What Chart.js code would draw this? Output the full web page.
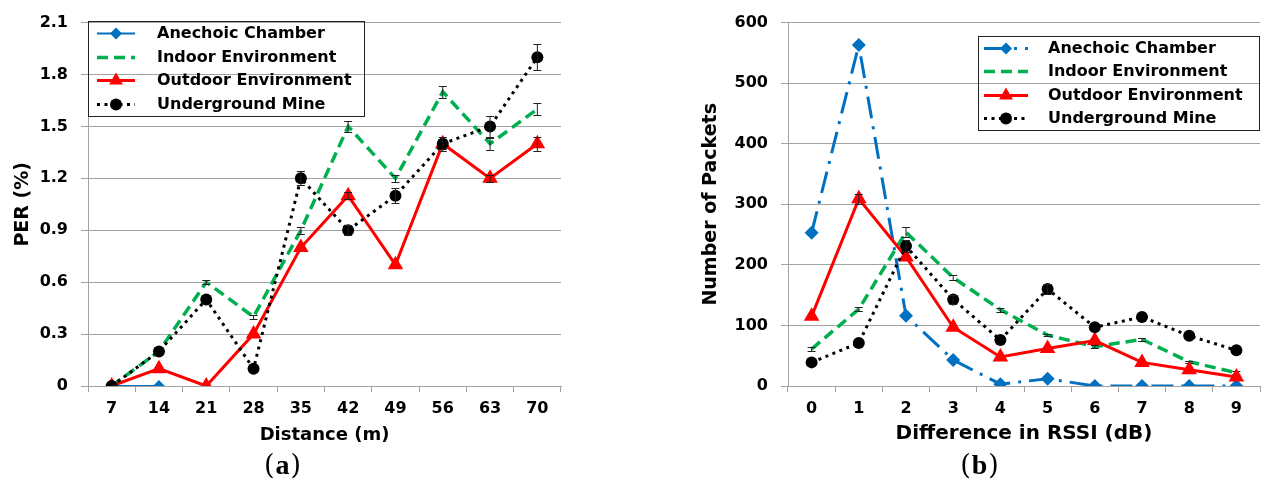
<!DOCTYPE html>
<html>
<head>
<meta charset="utf-8">
<script src="https://cdn.jsdelivr.net/npm/chart.js@4.4.0/dist/chart.umd.min.js"></script>
<style>
  html, body { margin: 0; padding: 0; background: #fff; }
  #wrap { position: relative; width: 1269px; height: 481px; overflow: hidden; }
  .box { position: absolute; top: 0; }
  .cap { position: absolute; top: 449px; font: 27px 'DejaVu Serif', serif; letter-spacing: 1px; color: #000; transform: translateX(-50%); }
  .cap b { font-family: 'Liberation Serif', serif; font-size: 28px; }
</style>
</head>
<body>
<div id="wrap">
  <div class="box" style="left:0"><canvas id="perChart" width="600" height="452"></canvas></div>
  <div class="box" style="left:660px"><canvas id="rssiChart" width="609" height="452"></canvas></div>
  <div class="cap" style="left:283px">(<b>a</b>)</div>
  <div class="cap" style="left:980px">(<b>b</b>)</div>
</div>
<script>
// (a) PER vs distance
const distLabels = ['7', '14', '21', '28', '35', '42', '49', '56', '63', '70'];
const perAnechoic = [0, 0];
const perIndoor = [0, 0.2, 0.6, 0.4, 0.9, 1.5, 1.2, 1.7, 1.4, 1.6];
const perOutdoor = [0, 0.1, 0, 0.3, 0.8, 1.1, 0.7, 1.4, 1.2, 1.4];
const perMine = [0, 0.2, 0.5, 0.1, 1.2, 0.9, 1.1, 1.4, 1.5, 1.9];
const perIndoorErr = [0, 0, 0.01, 0.01, 0.02, 0.03, 0.02, 0.035, 0.035, 0.035];
const perOutdoorErr = [0, 0, 0, 0, 0, 0.02, 0, 0.03, 0.02, 0.04];
const perMineErr = [0, 0, 0, 0, 0.04, 0.03, 0.045, 0.04, 0.06, 0.075];

// (b) packets vs RSSI difference
const rssiLabels = ['0', '1', '2', '3', '4', '5', '6', '7', '8', '9'];
const pktAnechoic = [253, 563, 116, 43, 3, 12, 0, 0, 0, 0];
const pktIndoor = [61, 127, 254, 179, 126, 84, 65, 77, 40, 22];
const pktOutdoor = [115, 309, 213, 97, 48, 62, 75, 39, 27, 15];
const pktMine = [39, 71, 231, 143, 76, 160, 97, 114, 83, 59];
const pktIndoorErr = [3, 3, 8, 4, 3, 2, 2, 2, 2, 2];
const pktOutdoorErr = [0, 8, 0, 0, 0, 0, 0, 0, 0, 0];
const pktMineErr = [0, 0, 10, 8, 0, 8, 0, 0, 0, 0];

const seriesNames = ['Anechoic Chamber', 'Indoor Environment', 'Outdoor Environment', 'Underground Mine'];

const FONT = 'DejaVu Sans';
const gridColor = '#a3a3a3';

// draws the little error bars on top of each series
const errorBars = {
  id: 'errorBars',
  afterDatasetDraw(chart, args) {
    const ds = chart.data.datasets[args.index];
    if (!ds.errors) return;
    const y = chart.scales.y;
    const ctx = chart.ctx;
    ctx.save();
    ctx.strokeStyle = '#222';
    ctx.lineWidth = 1;
    args.meta.data.forEach((pt, i) => {
      const e = ds.errors[i];
      const v = ds.data[i];
      if (!e || v == null) return;
      const top = Math.round(y.getPixelForValue(v + e)) + 0.5;
      const bot = Math.round(y.getPixelForValue(v - e)) + 0.5;
      ctx.beginPath();
      ctx.moveTo(pt.x, top); ctx.lineTo(pt.x, bot);
      ctx.moveTo(pt.x - 4, top); ctx.lineTo(pt.x + 4, top);
      ctx.moveTo(pt.x - 4, bot); ctx.lineTo(pt.x + 4, bot);
      ctx.stroke();
    });
    ctx.restore();
  }
};

function marker(ctx, style, r, x, y) {
  ctx.beginPath();
  if (style === 'rectRot') {
    ctx.moveTo(x, y - r); ctx.lineTo(x + r, y); ctx.lineTo(x, y + r); ctx.lineTo(x - r, y);
  } else if (style === 'triangle') {
    ctx.moveTo(x, y - r);
    ctx.lineTo(x + r * 0.866, y + r * 0.5);
    ctx.lineTo(x - r * 0.866, y + r * 0.5);
  } else {
    ctx.arc(x, y, r, 0, Math.PI * 2);
  }
  ctx.closePath();
  ctx.fill();
}

// Excel style legend box inside the plot
const boxLegend = {
  id: 'boxLegend',
  afterDraw(chart, args, o) {
    const ctx = chart.ctx;
    ctx.save();
    ctx.strokeStyle = '#222';
    ctx.lineWidth = 1;
    ctx.strokeRect(o.x + 0.5, o.y + 0.5, o.w, o.h);
    const rowH = o.h / chart.data.datasets.length;
    chart.data.datasets.forEach((ds, i) => {
      const cy = Math.round(o.y + rowH * (i + 0.5)) + 0.5;
      ctx.strokeStyle = ds.borderColor;
      ctx.lineWidth = ds.borderWidth;
      ctx.lineCap = ds.borderCapStyle || 'butt';
      ctx.setLineDash(ds.borderDash || []);
      ctx.beginPath();
      ctx.moveTo(o.sx0, cy); ctx.lineTo(o.sx1, cy);
      ctx.stroke();
      ctx.setLineDash([]);
      if (ds.pointRadius > 0) {
        ctx.fillStyle = ds.pointBackgroundColor;
        marker(ctx, ds.pointStyle, ds.legendRadius || ds.pointRadius, (o.sx0 + o.sx1) / 2, cy);
      }
      ctx.fillStyle = '#000';
      ctx.font = 'bold 16px "' + FONT + '"';
      ctx.textBaseline = 'middle';
      ctx.fillText(ds.label, o.tx, cy);
    });
    ctx.restore();
  }
};

function series(i, data, errors, style) {
  return Object.assign({ label: seriesNames[i], data: data, errors: errors, fill: false, tension: 0, order: 4 - i }, style);
}

function makeScales(xTitle, xTitleSize, yTitle, yMax, yStep, yTitlePad, yWidth, fmt) {
  return {
    x: {
      type: 'category',
      offset: true,
      grid: { display: true, drawOnChartArea: false, offset: true, tickLength: 6, color: gridColor },
      border: { color: gridColor },
      ticks: { font: { family: FONT, size: 16, weight: 'bold' }, color: '#000', padding: 7, maxRotation: 0 },
      title: { display: true, text: xTitle, color: '#000', font: { family: FONT, size: xTitleSize, weight: 'bold' }, padding: { top: 0, bottom: 4 } },
      afterFit: s => { s.height = 64; }
    },
    y: {
      min: 0,
      max: yMax,
      grid: { color: gridColor, tickLength: 7 },
      border: { color: gridColor },
      ticks: { stepSize: yStep, font: { family: FONT, size: 16, weight: 'bold' }, color: '#000', padding: 13, callback: fmt },
      title: { display: true, text: yTitle, color: '#000', font: { family: FONT, size: 19, weight: 'bold' }, padding: { top: yTitlePad, bottom: 0 } },
      afterFit: s => { s.width = yWidth; }
    }
  };
}

new Chart(document.getElementById('perChart'), {
  type: 'line',
  data: {
    labels: distLabels,
    datasets: [
      series(0, perAnechoic, null, { borderColor: '#0070c0', borderWidth: 2, pointStyle: 'rectRot', pointRadius: 6, legendRadius: 6, pointBackgroundColor: '#0070c0', pointBorderColor: '#0070c0', pointBorderWidth: 0 }),
      series(1, perIndoor, perIndoorErr, { borderColor: '#00b050', borderWidth: 3.5, borderDash: [11, 6], pointRadius: 0 }),
      series(2, perOutdoor, perOutdoorErr, { borderColor: '#ff0000', borderWidth: 3, pointStyle: 'triangle', pointRadius: 9, legendRadius: 8, pointBackgroundColor: '#ff0000', pointBorderColor: '#ff0000', pointBorderWidth: 0 }),
      series(3, perMine, perMineErr, { borderColor: '#000', borderWidth: 3, borderDash: [3, 4.5], pointStyle: 'circle', pointRadius: 6, legendRadius: 6, pointBackgroundColor: '#000', pointBorderColor: '#000', pointBorderWidth: 0 })
    ]
  },
  options: {
    responsive: false,
    animation: false,
    layout: { padding: { top: 21, right: 39, bottom: 2, left: 0 } },
    scales: makeScales('Distance (m)', 18, 'PER (%)', 2.1, 0.3, 12, 88, v => v === 0 ? '0' : v.toFixed(1)),
    plugins: {
      legend: { display: false },
      tooltip: { enabled: false },
      boxLegend: { x: 88, y: 21, w: 276, h: 95, sx0: 97, sx1: 135, tx: 157 }
    }
  },
  plugins: [errorBars, boxLegend]
});

new Chart(document.getElementById('rssiChart'), {
  type: 'line',
  data: {
    labels: rssiLabels,
    datasets: [
      series(0, pktAnechoic, null, { borderColor: '#0070c0', borderWidth: 3, borderDash: [22, 8, 3, 8], pointStyle: 'rectRot', pointRadius: 7, legendRadius: 6, pointBackgroundColor: '#0070c0', pointBorderColor: '#0070c0', pointBorderWidth: 0 }),
      series(1, pktIndoor, pktIndoorErr, { borderColor: '#00b050', borderWidth: 3.5, borderDash: [11, 6], pointRadius: 0 }),
      series(2, pktOutdoor, pktOutdoorErr, { borderColor: '#ff0000', borderWidth: 3, pointStyle: 'triangle', pointRadius: 9, legendRadius: 8, pointBackgroundColor: '#ff0000', pointBorderColor: '#ff0000', pointBorderWidth: 0 }),
      series(3, pktMine, pktMineErr, { borderColor: '#000', borderWidth: 3, borderDash: [3, 4.5], pointStyle: 'circle', pointRadius: 6, legendRadius: 6, pointBackgroundColor: '#000', pointBorderColor: '#000', pointBorderWidth: 0 })
    ]
  },
  options: {
    responsive: false,
    animation: false,
    layout: { padding: { top: 21, right: 2, bottom: 2, left: 0 } },
    scales: makeScales('Difference in RSSI (dB)', 20, 'Number of Packets', 600, 100, 40, 128, v => String(v)),
    plugins: {
      legend: { display: false },
      tooltip: { enabled: false },
      boxLegend: { x: 318, y: 36, w: 281, h: 94, sx0: 324, sx1: 368, tx: 388 }
    }
  },
  plugins: [errorBars, boxLegend]
});
</script>
</body>
</html>
